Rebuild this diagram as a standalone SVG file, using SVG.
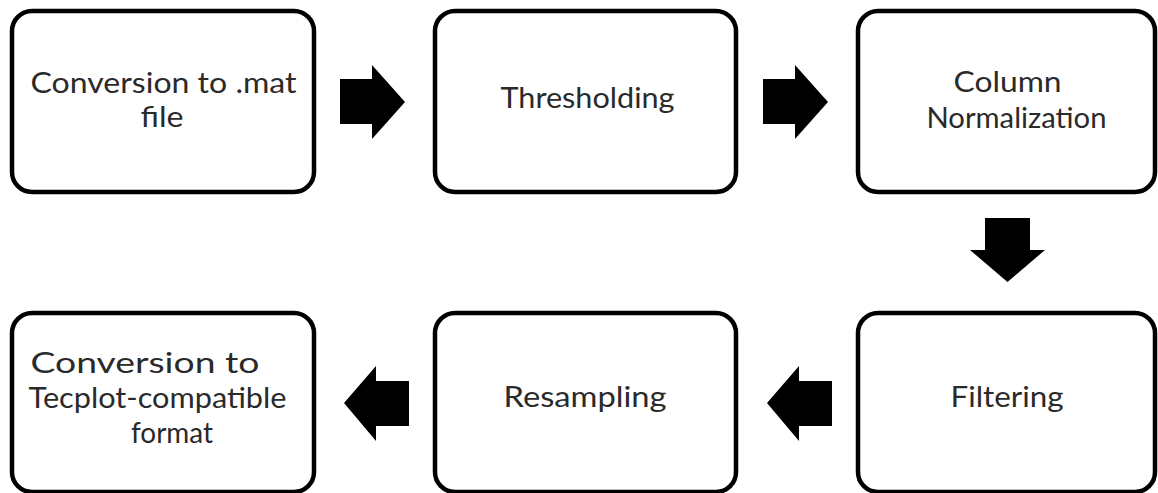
<svg xmlns="http://www.w3.org/2000/svg" width="1158" height="493" viewBox="0 0 1158 493">
  <style>
    .box { fill: #ffffff; stroke: #000000; stroke-width: 4.5; }
    .label { font-family: Lato, "Open Sans", "Liberation Sans", sans-serif; font-size: 29px; font-weight: 400; fill: #2a2a2a; text-anchor: middle; }
    .arrow { fill: #000000; stroke: none; }
  </style>
  <rect width="1158" height="493" fill="#ffffff"/>

  <!-- top row -->
  <g id="node-convert-mat">
    <rect class="box" x="12" y="11" width="302" height="181" rx="20" ry="20"/>
    <text class="label" x="163.5" y="93" textLength="266" lengthAdjust="spacingAndGlyphs">Conversion to .mat</text>
    <text class="label" x="162" y="127" textLength="43" lengthAdjust="spacingAndGlyphs">file</text>
  </g>
  <g id="node-thresholding">
    <rect class="box" x="435" y="11" width="301" height="181" rx="20" ry="20"/>
    <text class="label" x="587.5" y="108" textLength="174" lengthAdjust="spacingAndGlyphs">Thresholding</text>
  </g>
  <g id="node-column-normalization">
    <rect class="box" x="858" y="11" width="297" height="181" rx="20" ry="20"/>
    <text class="label" x="1007.5" y="92" textLength="108" lengthAdjust="spacingAndGlyphs">Column</text>
    <text class="label" x="1016.5" y="128" textLength="180" lengthAdjust="spacingAndGlyphs">Normalization</text>
  </g>

  <!-- bottom row -->
  <g id="node-filtering">
    <rect class="box" x="858" y="313" width="297" height="179" rx="20" ry="20"/>
    <text class="label" x="1007" y="407" textLength="113" lengthAdjust="spacingAndGlyphs">Filtering</text>
  </g>
  <g id="node-resampling">
    <rect class="box" x="435" y="313" width="301" height="179" rx="20" ry="20"/>
    <text class="label" x="585" y="407" textLength="163" lengthAdjust="spacingAndGlyphs">Resampling</text>
  </g>
  <g id="node-convert-tecplot">
    <rect class="box" x="12" y="313" width="302" height="179" rx="20" ry="20"/>
    <text class="label" x="145" y="373" textLength="229" lengthAdjust="spacingAndGlyphs">Conversion to</text>
    <text class="label" x="157.5" y="408" textLength="258" lengthAdjust="spacingAndGlyphs">Tecplot-compatible</text>
    <text class="label" x="172" y="443" textLength="82" lengthAdjust="spacingAndGlyphs">format</text>
  </g>

  <!-- block arrows between steps -->
  <g id="connectors">
    <polygon class="arrow" points="340,79 372,79 372,65 405,102 372,139 372,124 340,124"/>
    <polygon class="arrow" points="763,79 795,79 795,65 828,102 795,139 795,124 763,124"/>
    <polygon class="arrow" points="985,218 1030,218 1030,250 1045,250 1007.5,282 970,250 985,250"/>
    <polygon class="arrow" points="832,381 799,381 799,366 767,403 799,441 799,426 832,426"/>
    <polygon class="arrow" points="409,381 376,381 376,366 344,403 376,441 376,426 409,426"/>
  </g>
</svg>
